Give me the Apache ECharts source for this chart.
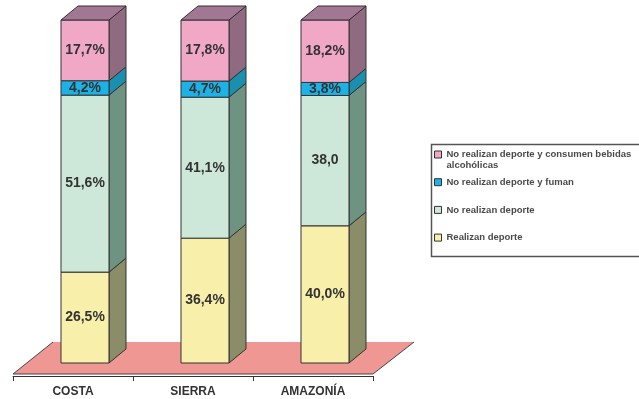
<!DOCTYPE html>
<html>
<head>
<meta charset="utf-8">
<script src="https://cdn.jsdelivr.net/npm/echarts@6/dist/echarts.min.js"></script>
<style>
  html, body { margin: 0; padding: 0; background: #fff; }
  #chart { width: 639px; height: 399px; }
</style>
</head>
<body>
<div id="chart"></div>
<script>
// datos (%)
const regiones = ['COSTA', 'SIERRA', 'AMAZONÍA']
const realizanDeporte = [26.5, 36.4, 40.0]
const noRealizanDeporte = [51.6, 41.1, 38.0]
const noDeporteFuman = [4.2, 4.7, 3.8]
const noDeporteBebidas = [17.7, 17.8, 18.2]

const etiquetasRealizan = ['26,5%', '36,4%', '40,0%']
const etiquetasNoRealizan = ['51,6%', '41,1%', '38,0']
const etiquetasFuman = ['4,2%', '4,7%', '3,8%']
const etiquetasBebidas = ['17,7%', '17,8%', '18,2%']

const nombres = [
  'Realizan deporte',
  'No realizan deporte',
  'No realizan deporte y fuman',
  'No realizan deporte y consumen bebidas alcohólicas'
]

const FONT = '"Liberation Sans", Arial, sans-serif'
const DX = 17
const DY = -14
const ANCHO = 48

const chart = echarts.init(document.getElementById('chart'), null, { renderer: 'canvas' })

// base acumulada de cada tramo
const tramos = [realizanDeporte, noRealizanDeporte, noDeporteFuman, noDeporteBebidas]
const bases = tramos.map((_, k) =>
  regiones.map((_, i) => tramos.slice(0, k).reduce((s, arr) => s + arr[i], 0))
)

const segmento = (etiquetas, lado, techo) => (params, api) => {
  const i = api.value(0)
  const base = api.value(1)
  const p0 = api.coord([i, base])
  const p1 = api.coord([i, base + api.value(2)])
  const xl = p0[0] - 12
  const xr = xl + ANCHO
  const children = [
    {
      type: 'polygon',
      shape: { points: [[xr, p0[1]], [xr, p1[1]], [xr + DX, p1[1] + DY], [xr + DX, p0[1] + DY]] },
      style: { fill: lado, stroke: '#333', lineWidth: 1 }
    },
    {
      type: 'rect',
      shape: { x: xl, y: p1[1], width: ANCHO, height: p0[1] - p1[1] },
      style: { fill: api.visual('color'), stroke: '#333', lineWidth: 1 }
    }
  ]
  if (techo) {
    children.push({
      type: 'polygon',
      shape: { points: [[xl, p1[1]], [xr, p1[1]], [xr + DX, p1[1] + DY], [xl + DX, p1[1] + DY]] },
      style: { fill: techo, stroke: '#333', lineWidth: 1 }
    })
  }
  children.push({
    type: 'text',
    style: {
      text: etiquetas[i],
      x: xl + ANCHO / 2,
      y: (p0[1] + p1[1]) / 2,
      align: 'center',
      verticalAlign: 'middle',
      font: 'bold 14px ' + FONT,
      fill: '#333'
    }
  })
  return { type: 'group', children }
}

const suelo = (params, api) => {
  const c0 = api.coord([0, 0])
  const c2 = api.coord([regiones.length - 1, 0])
  const w = api.size([1, 0])[0]
  const yF = c0[1] + 11
  const yB = c0[1] - 21
  const xFL = c0[0] - w / 2
  const xFR = c2[0] + w / 2
  return {
    type: 'group',
    children: [
      {
        type: 'polygon',
        shape: { points: [[xFL, yF], [xFR, yF], [xFR + 41, yB], [xFL + 40, yB]] },
        style: { fill: '#ef9893' }
      },
      {
        type: 'polyline',
        shape: { points: [[xFL + 40, yB], [xFL, yF], [xFR, yF], [xFR + 41, yB]] },
        style: { stroke: '#444', lineWidth: 1, fill: null }
      }
    ]
  }
}

const serie = (k, etiquetas, frente, lado, techo) => ({
  name: nombres[k],
  type: 'custom',
  z: 3,
  silent: true,
  itemStyle: { color: frente },
  encode: { x: 0, y: 1 },
  data: regiones.map((_, i) => [i, bases[k][i], tramos[k][i]]),
  renderItem: segmento(etiquetas, lado, techo)
})

const option = {
  animation: false,
  grid: { left: 13, right: 266, top: 20, bottom: 36 },
  xAxis: {
    type: 'category',
    data: regiones,
    offset: 13,
    z: 5,
    axisLine: { onZero: false, lineStyle: { color: '#333', width: 1 } },
    axisTick: { show: true, length: 5, lineStyle: { color: '#333' } },
    axisLabel: { margin: 10, color: '#333', fontSize: 12, fontWeight: 'bold', fontFamily: FONT }
  },
  yAxis: { type: 'value', min: 0, max: 100, show: false },
  legend: {
    orient: 'vertical',
    left: 434,
    top: 138,
    padding: 0,
    itemGap: -5.3,
    itemWidth: 7,
    itemHeight: 7,
    icon: 'rect',
    itemStyle: { borderColor: '#333', borderWidth: 1 },
    textStyle: { fontSize: 9.5, fontWeight: 'bold', color: '#4a4a4a', lineHeight: 11, fontFamily: FONT },
    formatter: (name) =>
      name === nombres[3]
        ? '\nNo realizan deporte y consumen bebidas\nalcohólicas'
        : '\n' + name + '\n',
    data: [nombres[3], nombres[2], nombres[1], nombres[0]]
  },
  graphic: [
    {
      type: 'rect',
      shape: { x: 431.5, y: 144.5, width: 230, height: 112 },
      style: { fill: null, stroke: '#555', lineWidth: 1.5 },
      silent: true
    }
  ],
  series: [
    {
      name: 'suelo',
      type: 'custom',
      z: 1,
      silent: true,
      encode: { x: 0, y: 1 },
      data: [[0, 0]],
      renderItem: suelo
    },
    serie(0, etiquetasRealizan, '#f8f0aa', '#8b8c68', null),
    serie(1, etiquetasNoRealizan, '#cde8d8', '#6f9383', null),
    serie(2, etiquetasFuman, '#1cb2e6', '#1b8fae', null),
    serie(3, etiquetasBebidas, '#f0a8c6', '#8f6a80', '#a27794')
  ]
}

chart.setOption(option)
</script>
</body>
</html>
